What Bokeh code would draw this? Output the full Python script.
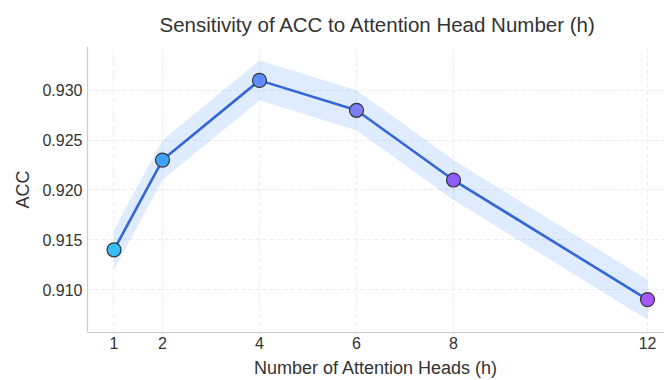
from bokeh.plotting import figure
from bokeh.models import FixedTicker, NumeralTickFormatter, Range1d, ColumnDataSource
from bokeh.embed import file_html
from bokeh.resources import INLINE

heads = [1, 2, 4, 6, 8, 12]
acc = [0.914, 0.923, 0.931, 0.928, 0.921, 0.909]
acc_lower = [0.912, 0.921, 0.929, 0.926, 0.919, 0.907]
acc_upper = [0.916, 0.925, 0.933, 0.930, 0.923, 0.911]
marker_colors = ["#38bdf8", "#3fa2f6", "#5b8ef8", "#7b7cf6", "#8b5cf6", "#a855f7"]
y_ticks = [0.910, 0.915, 0.920, 0.925, 0.930]

FONT = "Liberation Sans"

p = figure(width=664, height=380, output_backend="svg", toolbar_location=None,
           x_range=Range1d(0.454, 12.35), y_range=Range1d(0.9057, 0.9344),
           min_border_left=87, min_border_right=0, min_border_top=45, min_border_bottom=47)

p.title.text = "Sensitivity of ACC to Attention Head Number (h)"
p.title.text_font = FONT
p.title.text_font_size = "20.5px"
p.title.text_font_style = "normal"
p.title.text_color = "#333333"
p.title.align = "left"
p.title.offset = 72
p.title.standoff = 21

src = ColumnDataSource(dict(x=heads, y=acc, lo=acc_lower, hi=acc_upper, c=marker_colors))

p.varea(x="x", y1="lo", y2="hi", source=src, fill_color="#3b82f6", fill_alpha=0.16)
p.line(x="x", y="y", source=src, line_color="#3366d6", line_width=2.6)
p.scatter(x="x", y="y", source=src, size=14, fill_color="c", line_color="#333333", line_width=1.2)

p.outline_line_color = None
p.background_fill_color = "white"
for ax in (p.xaxis[0], p.yaxis[0]):
    ax.axis_line_color = "#cccccc"
    ax.axis_line_width = 1.2
    ax.major_tick_line_color = None
    ax.minor_tick_line_color = None
    ax.major_tick_out = 0
    ax.major_tick_in = 0
    ax.major_label_text_font = FONT
    ax.major_label_text_font_size = "16px"
    ax.major_label_text_color = "#333333"
    ax.axis_label_text_font = FONT
    ax.axis_label_text_font_size = "18px"
    ax.axis_label_text_font_style = "normal"
    ax.axis_label_text_color = "#333333"

p.xaxis.ticker = FixedTicker(ticks=heads)
p.yaxis.ticker = FixedTicker(ticks=y_ticks)
p.yaxis.formatter = NumeralTickFormatter(format="0.000")
p.xaxis.axis_label = "Number of Attention Heads (h)"
p.yaxis.axis_label = "ACC"
p.xaxis.major_label_standoff = 4
p.xaxis.axis_label_standoff = 6
p.yaxis.major_label_standoff = 5
p.yaxis.axis_label_standoff = 6

p.grid.grid_line_color = "#ebebeb"
p.grid.grid_line_dash = "4 3"
p.grid.grid_line_width = 1

open("out.html", "w").write(file_html(p, INLINE))
